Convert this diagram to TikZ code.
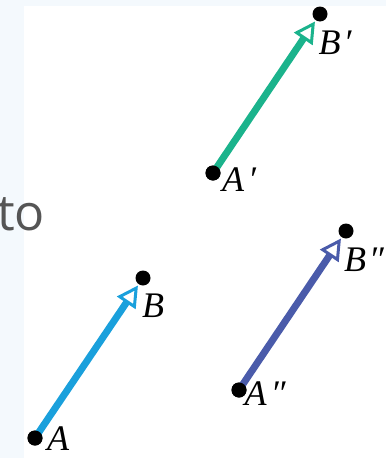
\documentclass[tikz,border=0pt]{standalone}
\usepackage{fontspec}
\setmainfont{Liberation Serif}
\newfontfamily\labelsans{Open Sans}
\newfontfamily\labelserif{Liberation Serif}
\usetikzlibrary{arrows.meta}
\definecolor{vgreen}{HTML}{1BB38C}
\definecolor{vblue}{HTML}{1AA0DC}
\definecolor{vpurple}{HTML}{4A5BAA}
\definecolor{tint}{HTML}{F4F9FD}
\definecolor{txtgrey}{HTML}{555555}
\tikzset{
  pt/.style={circle,fill=black,inner sep=0pt,minimum size=15pt},
  vec/.style={line width=7pt,shorten >=9pt,
    -{Triangle[length=21pt,width=22pt,line width=3pt,fill=white]}},
  lbl/.style={font=\labelserif\itshape\fontsize{36}{38}\selectfont,inner sep=0pt}
}
\begin{document}
\begin{tikzpicture}[x=1pt,y=-1pt]
\useasboundingbox (0,0) rectangle (386,458);
\fill[tint] (0,0) rectangle (24,458);
\fill[tint] (24,0) rectangle (386,6);
\node[anchor=west,inner sep=0pt,text=txtgrey,font=\labelsans\fontsize{50}{52}\selectfont] (to) at (-3,214) {to};
% points
\node[pt] (A1) at (213,173) {};
\node[pt] (B1) at (320,14) {};
\node[pt] (A0) at (35,438) {};
\node[pt] (B0) at (143,278) {};
\node[pt] (A2) at (239,390) {};
\node[pt] (B2) at (346,231) {};
% vectors
\draw[vec,draw=vgreen] (A1.center) -- (B1.center);
\draw[vec,draw=vblue] (A0.center) -- (B0.center);
\draw[vec,draw=vpurple] (A2.center) -- (B2.center);
\node[pt] at (A1) {};
\node[pt] at (A0) {};
\node[pt] at (A2) {};
% labels
\node[lbl] (lA1) at (239,180) {A\kern4pt′};
\node[lbl] (lB1) at (335,43) {B\kern3pt′};
\node[lbl] (lA0) at (58,439) {A};
\node[lbl] (lB0) at (153,306) {B};
\node[lbl] (lA2) at (265,394) {A\kern4pt″};
\node[lbl] (lB2) at (364,260) {B\kern3pt″};
\end{tikzpicture}
\end{document}
